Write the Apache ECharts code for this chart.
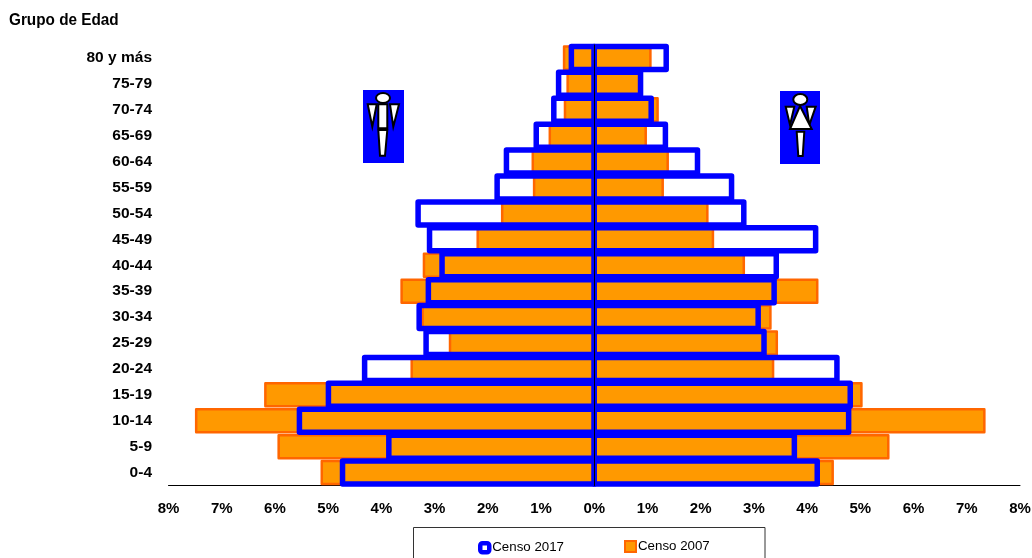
<!DOCTYPE html>
<html>
<head>
<meta charset="utf-8">
<style>html,body{margin:0;padding:0;background:#fff;overflow:hidden}#c{width:1032px;height:558px}</style>
<script src="https://cdn.jsdelivr.net/npm/echarts@6/dist/echarts.min.js"></script>
</head>
<body>
<div id="c"></div>
<script>
const ageGroups = ['80 y más','75-79','70-74','65-69','60-64','55-59','50-54','45-49','40-44','35-39','30-34','25-29','20-24','15-19','10-14','5-9','0-4'];
const male2017 = [0.43,0.67,0.76,1.09,1.65,1.825,3.31,3.095,2.86,3.117,3.29,3.16,4.315,4.995,5.54,3.86,4.73];
const female2017 = [1.352,0.87,1.07,1.337,1.94,2.58,2.81,4.16,3.42,3.38,3.08,3.19,4.56,4.81,4.78,3.76,4.19];
const male2007 = [0.567,0.50,0.55,0.835,1.155,1.13,1.73,2.19,3.2,3.62,3.226,2.71,3.43,6.18,7.48,5.93,5.12];
const female2007 = [1.055,0.85,1.19,0.967,1.38,1.286,2.125,2.23,2.81,4.19,3.31,3.43,3.36,5.02,7.33,5.525,4.48];
const font = '"Liberation Sans",Arial,sans-serif';

function poly(points) {
  return {type:'polygon', shape:{points}, style:{fill:'#fff', stroke:'#000', lineWidth:2, lineJoin:'miter'}, z:20};
}
function maleIcon(x, y) {
  const P = (a,b)=>[x+a,y+b];
  return [
    {type:'rect', shape:{x:x,y:y,width:41,height:73}, style:{fill:'#0000ff'}, z:19},
    {type:'ellipse', shape:{cx:x+20,cy:y+8,rx:7,ry:5}, style:{fill:'#fff',stroke:'#000',lineWidth:2}, z:20},
    poly([P(4.7,14.3),P(13.7,14.3),P(9.3,36.7)]),
    poly([P(27,14.3),P(36,14.3),P(30.3,36.7)]),
    poly([P(15.3,14.3),P(24.3,14.3),P(24.3,38.3),P(15.3,38.3)]),
    poly([P(15.3,40),P(24.3,40),P(22,65.7),P(17,65.7)])
  ];
}
function femaleIcon(x, y) {
  const P = (a,b)=>[x+a,y+b];
  return [
    {type:'rect', shape:{x:x,y:y,width:40,height:73}, style:{fill:'#0000ff'}, z:19},
    {type:'ellipse', shape:{cx:x+20.3,cy:y+8.5,rx:7,ry:5.5}, style:{fill:'#fff',stroke:'#000',lineWidth:2}, z:20},
    poly([P(5.7,15.7),P(14.3,15.7),P(10,34)]),
    poly([P(26.7,15.7),P(35.7,15.7),P(29.3,34)]),
    poly([P(20,15),P(31.7,38),P(10,38)]),
    poly([P(16.7,40.7),P(24.3,40.7),P(22.7,65),P(18.3,65)])
  ];
}

const rows = (vals, sign) => vals.map((v,i)=>[sign*v, ageGroups[i]]);
function barSeries(name, data, fill, stroke, lineWidth, z) {
  return {
    type:'custom', name, data, yAxisIndex:0, z, silent:true, clip:false,
    encode:{x:0, y:1},
    renderItem(params, api) {
      const zero = api.coord([0, api.value(1)]);
      const end = api.coord([api.value(0), api.value(1)]);
      const h = 23;
      return {type:'rect',
        shape:{x:Math.min(zero[0],end[0]), y:zero[1]-h/2, width:Math.abs(end[0]-zero[0]), height:h},
        style:{fill, stroke, lineWidth, lineJoin:'round'}};
    }
  };
}

const chart = echarts.init(document.getElementById('c'), null, {renderer:'canvas'});
chart.setOption({
  animation:false,
  backgroundColor:'#fff',
  grid:{left:168.5, right:12, top:45, bottom:72.5, containLabel:false, outerBoundsMode:'none'},
  xAxis:{
    type:'value', min:-8, max:8, interval:1, position:'bottom',
    axisLine:{show:true, onZero:false, lineStyle:{color:'#000', width:1}},
    axisTick:{show:false}, splitLine:{show:false},
    axisLabel:{margin:15.5, color:'#000', fontFamily:font, fontWeight:'bold', fontSize:15,
      formatter:v => Math.abs(v)+'%'}
  },
  yAxis:[
    {type:'category', inverse:true, data:ageGroups, position:'left',
      axisLine:{show:false, onZero:false}, axisTick:{show:false},
      axisLabel:{margin:16.5, color:'#000', fontFamily:font, fontWeight:'bold', fontSize:15.5, interval:0}},
    {type:'category', inverse:true, data:ageGroups, z:15,
      axisLine:{show:true, onZero:true, lineStyle:{color:'#000', width:1}},
      axisTick:{show:false}, axisLabel:{show:false}, splitLine:{show:false}}
  ],
  legend:[
    {left:478, top:541, padding:0, itemWidth:9, itemHeight:9, icon:'roundRect', selectedMode:false,
      textStyle:{color:'#000', fontFamily:font, fontSize:13.3, padding:[0,0,0,-2]},
      data:[{name:'Censo 2017', itemStyle:{color:'#fff', borderColor:'#0000FF', borderWidth:4.5}}]},
    {left:624, top:540, padding:0, itemWidth:11, itemHeight:11, icon:'rect', selectedMode:false,
      textStyle:{color:'#000', fontFamily:font, fontSize:13.3, padding:[0,0,0,-3]},
      data:[{name:'Censo 2007', itemStyle:{color:'#FF9900', borderColor:'#FF6600', borderWidth:2}}]}
  ],
  series:[
    barSeries('Censo 2007', rows(male2007,-1), '#FF9900', '#FF6600', 2.5, 2),
    barSeries('Censo 2007', rows(female2007,1), '#FF9900', '#FF6600', 2.5, 2),
    barSeries('Censo 2017', rows(male2017,-1), 'rgba(0,0,0,0)', '#0000FF', 5.5, 3),
    barSeries('Censo 2017', rows(female2017,1), 'rgba(0,0,0,0)', '#0000FF', 5.5, 3)
  ],
  graphic:[
    {type:'text', x:9, y:12, scaleX:0.9, style:{text:'Grupo de Edad', fill:'#000', font:'bold 17px '+font}},
    {type:'rect', shape:{x:413.5,y:527.5,width:351.5,height:40}, style:{fill:'none',stroke:'#333',lineWidth:1}, z:-1}
  ].concat(maleIcon(363,90), femaleIcon(780,91))
});
</script>
</body>
</html>
